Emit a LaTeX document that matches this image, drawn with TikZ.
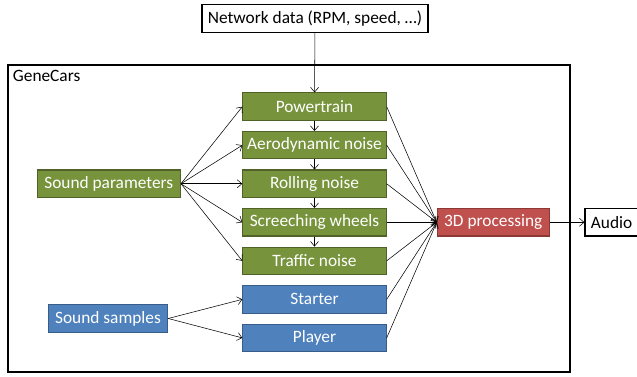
\documentclass[tikz,border=0pt]{standalone}
\usepackage{fontspec}
\setmainfont{Carlito}
\definecolor{olivefill}{RGB}{119,147,60}
\definecolor{olivedraw}{RGB}{80,98,40}
\definecolor{bluefill}{RGB}{79,129,189}
\definecolor{bluedraw}{RGB}{56,93,138}
\definecolor{redfill}{RGB}{192,80,77}
\definecolor{reddraw}{RGB}{140,56,54}
\usetikzlibrary{arrows.meta, positioning}

\begin{document}
\begin{tikzpicture}[x=0.75pt, y=-0.75pt, node distance=7.5pt, font=\fontsize{13}{15}\selectfont,
    >={Straight Barb[length=3.5pt, width=6pt]},
    block/.style={draw, rectangle, minimum height=20.6pt, inner sep=2pt, line width=0.8pt},
    paramsbox/.style={block, fill=olivefill, draw=olivedraw, text=white, minimum width=107.5pt},
    samplebox/.style={block, fill=bluefill, draw=bluedraw, text=white, minimum width=107.5pt},
    procbox/.style={block, fill=redfill, draw=reddraw, text=white, minimum width=84pt},
    plainbox/.style={block, fill=white, draw=black}]
        \useasboundingbox (0,0) rectangle (637,377);

        % outer frame
        \draw[line width=1pt] (8,65) rectangle (570,372);
        \node[anchor=north west, inner sep=2pt] (title) at (10,67) {GeneCars};

        \node[plainbox, minimum width=169.5pt] (net) at (315,18.5) {Network data (RPM, speed, …)};

        \node[paramsbox] (power) at (314.5,106.7) {Powertrain};
        \node[paramsbox, below=of power] (aero) {Aerodynamic noise};
        \node[paramsbox, below=of aero] (rolling) {Rolling noise};
        \node[paramsbox, below=of rolling] (screech) {Screeching wheels};
        \node[paramsbox, below=of screech] (traffic) {Traffic noise};
        \node[samplebox, below=of traffic] (starter) {Starter};
        \node[samplebox, below=of starter] (player) {Player};

        \node[paramsbox, left=46pt of rolling] (params) {Sound parameters};
        \node[samplebox, minimum width=89.5pt] (samples) at (108,318.5) {Sound samples};

        \node[procbox, right=37.5pt of screech] (proc) {3D processing};
        \node[plainbox, right=26pt of proc, minimum width=40pt] (audio) {Audio};

        \draw[->] (net) -- (power);
        \foreach \a/\b in {power/aero, aero/rolling, rolling/screech, screech/traffic}
            \draw[->] (\a) -- (\b);
        \foreach \n in {power, aero, rolling, screech, traffic}
            \draw[->] (params.east) -- (\n.west);
        \foreach \n in {starter, player}
            \draw[->] (samples.east) -- (\n.west);
        \foreach \n in {power, aero, rolling, screech, traffic, starter, player}
            \draw[->] (\n.east) -- (proc.west);
        \draw[->] (proc) -- (audio);
    \end{tikzpicture}
\end{document}
